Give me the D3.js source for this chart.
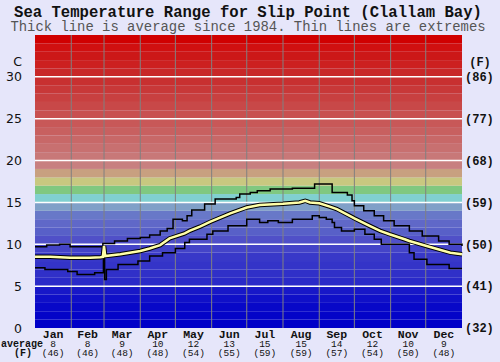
<!DOCTYPE html>
<html>
<head>
<meta charset="utf-8">
<script src="https://d3js.org/d3.v7.min.js"></script>
<style>
body { margin: 0; background: #e6e6fa; }
svg { display: block; }
text { font-family: 'Liberation Mono', 'Courier New', monospace; }
.ylab text { font-family: 'DejaVu Sans', Verdana, sans-serif; font-size: 12.5px; fill: #111; }
.flab text { font-size: 12px; font-weight: bold; fill: #111; }
</style>
</head>
<body>
<svg width="500" height="362"></svg>

<script>
var months = ["Jan", "Feb", "Mar", "Apr", "May", "Jun", "Jul", "Aug", "Sep", "Oct", "Nov", "Dec"];
var monthStart = [0, 31, 59, 90, 120, 151, 181, 212, 243, 273, 304, 334, 365];
var monthAvgC = [8, 8, 9, 10, 12, 13, 15, 15, 14, 12, 10, 9];
var monthAvgF = [46, 46, 48, 48, 54, 55, 59, 59, 57, 54, 50, 48];
var tempTicks = [0, 5, 10, 15, 20, 25, 30];

// [day of year, degrees C]
var avgLine = [[0,8.5],[13,8.5],[30,8.4],[47,8.4],[56,8.45],[58,8.5],[59,9.8],[60,8.6],[73,8.8],
  [90,9.2],[98,9.5],[107,9.9],[115,10.7],[128,11.3],[132,11.6],[141,12.1],[150,12.7],[167,13.7],
  [181,14.4],[192,14.7],[212,14.85],[226,15.0],[231,15.2],[235,15.0],[243,14.9],[252,14.5],
  [258,14.2],[269,13.4],[273,13.1],[286,12.2],[295,11.6],[303,11.2],[316,10.6],[320,10.4],
  [337,9.7],[355,9.0],[365,8.8]];

var maxLine = [[0,9.7],[10,9.9],[21,10.0],[30,9.7],[58,10.1],[68,10.4],[79,10.7],[90,10.8],
  [98,11.1],[107,11.6],[113,11.9],[118,13.0],[126,12.8],[130,13.4],[134,14.1],[145,14.8],
  [154,15.4],[172,15.6],[175,16.0],[184,16.2],[190,16.4],[201,16.6],[220,16.7],[239,17.2],
  [254,16.2],[267,15.9],[271,15.2],[273,14.6],[281,14.0],[290,13.4],[298,12.8],[307,12.2],
  [320,11.6],[331,11.0],[345,10.4],[354,10.0],[365,9.8]];

var minLine = [[0,7.2],[8.5,7.0],[28,6.75],[36,6.4],[51,6.6],[58.5,9.7],[59.5,5.8],[61,7.0],
  [71,7.6],[88,8.0],[98,8.6],[109,9.0],[120,9.5],[128,10.2],[132,10.6],[147,11.2],[152,11.6],
  [165,12.2],[181,13.0],[192,12.6],[199,12.8],[208,12.6],[220,13.0],[237,13.4],[243,13.2],
  [249,13.0],[254,12.6],[256,12.0],[262,11.6],[273,11.8],[282,11.2],[290,10.6],[296,10.0],
  [320,9.0],[324,8.2],[335,7.6],[354,7.1],[365,7.1]];

// fill colour for each 1 degree band, 0-1 up to 34-35
var bandColors = ["#0000c8","#0404c8","#0808c8","#1010c8","#1818c8",
  "#2a2ac8","#3030c8","#3434c8","#3838c8","#4444c8",
  "#5050c8","#5860c8","#6068c8","#6878c8","#80a0c8",
  "#80d0d0","#80c880","#c8c880","#c8a080","#c88080",
  "#c87878","#c87070","#c86868","#c86060","#c85858",
  "#c85050","#c84848","#c84040","#c83838","#c83030",
  "#c82828","#cc2020","#cc1818","#d01010","#d00000"];

var svg = d3.select("svg");
var plotLeft = 35, plotRight = 462, plotTop = 35, plotBottom = 328;

var x = d3.scaleLinear().domain([0, 365]).range([plotLeft, plotRight]);
var y = d3.scaleLinear().domain([0, 35]).range([plotBottom, plotTop]);

// title
svg.append("text").attr("x", 248).attr("y", 17).attr("text-anchor", "middle")
  .style("font-size", "15.6px").style("font-weight", "bold").style("fill", "#111")
  .text("Sea Temperature Range for Slip Point (Clallam Bay)");
svg.append("text").attr("x", 248).attr("y", 31).attr("text-anchor", "middle")
  .style("font-size", "13.9px").style("fill", "#555")
  .text("Thick line is average since 1984. Thin lines are extremes");

// colour bands
svg.append("g").selectAll("rect").data(bandColors).enter().append("rect")
  .attr("x", plotLeft)
  .attr("width", plotRight - plotLeft)
  .attr("y", function (d, i) { return y(i + 1); })
  .attr("height", function (d, i) { return y(i) - y(i + 1); })
  .attr("fill", function (d) { return d; });

// month separators
svg.append("g").selectAll("line").data(monthStart.slice(1, 12)).enter().append("line")
  .attr("x1", function (d) { return x(d); })
  .attr("x2", function (d) { return x(d); })
  .attr("y1", plotTop).attr("y2", plotBottom)
  .attr("stroke", "#808080").attr("stroke-width", 1);

// horizontal grid
svg.append("g").selectAll("line").data(tempTicks.slice(1)).enter().append("line")
  .attr("x1", plotLeft).attr("x2", plotRight)
  .attr("y1", function (d) { return y(d); })
  .attr("y2", function (d) { return y(d); })
  .attr("stroke", "#fff").attr("stroke-width", 1.5);

var stepLine = d3.line().x(function (d) { return x(d[0]); }).y(function (d) { return y(d[1]); })
  .curve(d3.curveStepAfter);
var smoothLine = d3.line().x(function (d) { return x(d[0]); }).y(function (d) { return y(d[1]); });

svg.append("path").attr("d", stepLine(maxLine)).attr("fill", "none").attr("stroke", "#000").attr("stroke-width", 1.5);
svg.append("path").attr("d", stepLine(minLine)).attr("fill", "none").attr("stroke", "#000").attr("stroke-width", 1.5);
svg.append("path").attr("d", smoothLine(avgLine)).attr("fill", "none").attr("stroke", "#000").attr("stroke-width", 4.5);
svg.append("path").attr("d", smoothLine(avgLine)).attr("fill", "none").attr("stroke", "#ffffa8").attr("stroke-width", 2.5);

// axes
var yAxis = d3.axisLeft(y).tickValues(tempTicks).tickSize(0).tickPadding(13);
var gy = svg.append("g").attr("class", "ylab").attr("transform", "translate(" + plotLeft + ",0)").call(yAxis);
gy.select(".domain").remove();

var fAxis = d3.axisRight(y).tickValues(tempTicks).tickSize(0).tickPadding(3)
  .tickFormat(function (d) { return "(" + Math.round(d * 1.8 + 32) + ")"; });
var gf = svg.append("g").attr("class", "flab").attr("transform", "translate(" + plotRight + ",0)").call(fAxis);
gf.select(".domain").remove();

svg.append("text").attr("x", 22).attr("y", 66).attr("text-anchor", "end")
  .style("font-family", "'DejaVu Sans', sans-serif").style("font-size", "12.5px").style("fill", "#111").text("C");
svg.append("text").attr("x", 480).attr("y", 66).attr("text-anchor", "middle")
  .style("font-size", "12px").style("font-weight", "bold").style("fill", "#111").text("(F)");

// month labels
var mid = function (i) { return x((monthStart[i] + monthStart[i + 1]) / 2); };
var mg = svg.append("g").attr("text-anchor", "middle").style("fill", "#111");
mg.selectAll("text.m").data(months).enter().append("text").attr("class", "m")
  .attr("x", function (d, i) { return mid(i); }).attr("y", 337.5)
  .style("font-size", "11.5px").style("font-weight", "bold").text(function (d) { return d; });
mg.selectAll("text.c").data(monthAvgC).enter().append("text").attr("class", "c")
  .attr("x", function (d, i) { return mid(i); }).attr("y", 347)
  .style("font-size", "9.5px").text(function (d) { return d; });
mg.selectAll("text.f").data(monthAvgF).enter().append("text").attr("class", "f")
  .attr("x", function (d, i) { return mid(i); }).attr("y", 356)
  .style("font-size", "9.5px").text(function (d) { return "(" + d + ")"; });

svg.append("text").attr("x", 22).attr("y", 347).attr("text-anchor", "middle")
  .style("font-size", "10px").style("font-weight", "bold").style("fill", "#111").text("average");
svg.append("text").attr("x", 23).attr("y", 356).attr("text-anchor", "middle")
  .style("font-size", "10px").style("font-weight", "bold").style("fill", "#111").text("(F)");
</script>
</body>
</html>
